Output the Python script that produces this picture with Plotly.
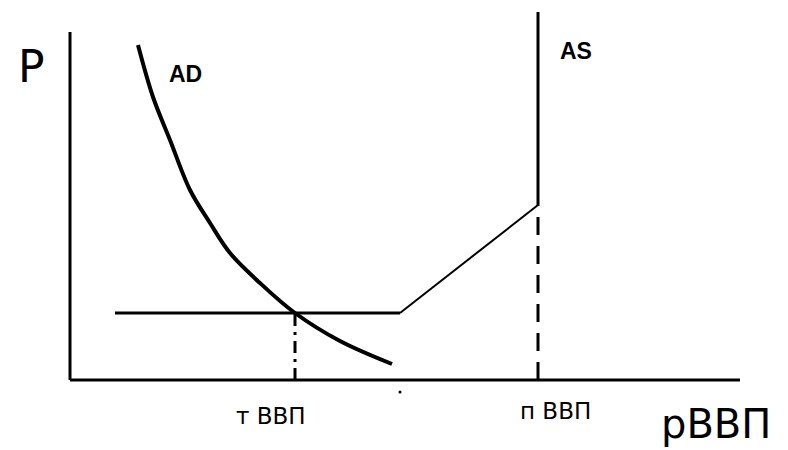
import plotly.graph_objects as go

# Axes
axis_y_x = [0, 0]
axis_y_y = [0, 348]
axis_x_x = [0, 670]
axis_x_y = [0, 0]

# AD curve (aggregate demand)
ad_x = [68, 83, 100, 120, 140, 160, 190, 225, 270, 322]
ad_y = [335, 283, 240, 190, 157, 127, 97, 67, 39, 16]

# AS curve segments
as_flat_x = [45, 330]
as_flat_y = [67, 67]
as_slope_x = [330, 468]
as_slope_y = [67, 175]
as_vert_x = [468, 468]
as_vert_y = [175, 368]

# Dashed guide lines
guide1_x = [225, 225]
guide1_y = [0, 67]
guide2_x = [468, 468]
guide2_y = [0, 175]

# Labels
label_texts = ["P", "AD", "AS", "т ВВП", "п ВВП", "рВВП"]
label_x = [-39, 115, 506, 201, 485, 646]
label_y = [314, 306, 329, -36, -31, -44]

fig = go.Figure()

def line(x, y, w, dash="solid", shape="linear"):
    fig.add_trace(go.Scatter(x=x, y=y, mode="lines",
                             line=dict(color="black", width=w, dash=dash, shape=shape),
                             hoverinfo="skip", showlegend=False))

line(axis_y_x, axis_y_y, 3)
line(axis_x_x, axis_x_y, 3)
line(ad_x, ad_y, 4, shape="spline")
line(as_flat_x, as_flat_y, 3)
line(as_slope_x, as_slope_y, 2)
line(as_vert_x, as_vert_y, 3)
line(guide1_x, guide1_y, 3, dash="12px,6px,3px,6px")
line(guide2_x, guide2_y, 3, dash="18px,11px")

fig.add_trace(go.Scatter(x=[330], y=[-12], mode="markers",
                         marker=dict(color="black", size=3),
                         hoverinfo="skip", showlegend=False))

fonts = [
    dict(family="DejaVu Sans", size=44, color="black"),
    dict(family="Liberation Sans", size=23, color="black", weight="bold"),
    dict(family="Liberation Sans", size=23, color="black", weight="bold"),
    dict(family="DejaVu Sans", size=23, color="black"),
    dict(family="DejaVu Sans", size=23, color="black"),
    dict(family="DejaVu Sans", size=40, color="black"),
]
for t, x, y, f in zip(label_texts, label_x, label_y, fonts):
    fig.add_annotation(x=x, y=y, text=t, showarrow=False, font=f,
                       xref="x", yref="y", xanchor="center", yanchor="middle")

fig.update_layout(
    width=788, height=450,
    margin=dict(l=0, r=0, t=0, b=0),
    paper_bgcolor="white", plot_bgcolor="white",
    xaxis=dict(range=[-62, 726], visible=False, fixedrange=True),
    yaxis=dict(range=[-78, 372], visible=False, fixedrange=True),
)

fig.write_html("out.html")
